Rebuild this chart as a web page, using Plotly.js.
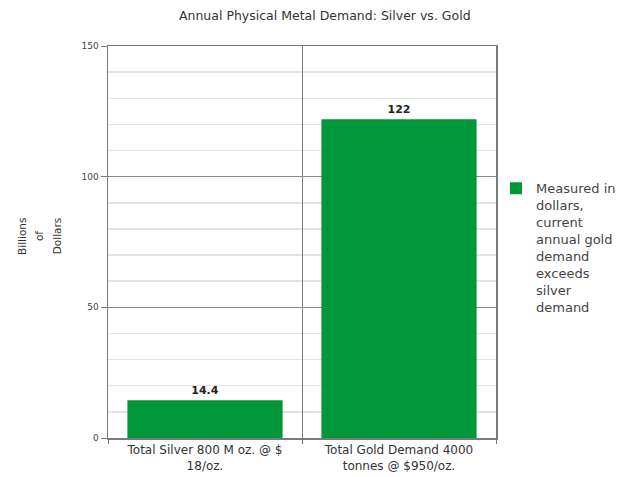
<!DOCTYPE html>
<html>
<head>
<meta charset="utf-8">
<script src="https://cdn.plot.ly/plotly-3.0.1.min.js"></script>
<style>
  html, body { margin: 0; padding: 0; background: #fff; }
  #chart { width: 627px; height: 477px; }
</style>
</head>
<body>
<div id="chart"></div>
<script>
// Annual physical demand, in billions of dollars
const categories = [
  'Total Silver 800 M oz. @ $<br>18/oz.',
  'Total Gold Demand 4000<br>tonnes @ $950/oz.'
];
const demandBillions = [14.4, 122];
const seriesName = 'Measured in<br>dollars,<br>current<br>annual gold<br>demand<br>exceeds<br>silver<br>demand';
const chartTitle = 'Annual Physical Metal Demand: Silver vs. Gold';
const yTitleLines = ['Billions', 'of', 'Dollars'];
const yTickValues = [0, 50, 100, 150];

const FONT = 'DejaVu Sans, Liberation Sans, Arial, sans-serif';
const GREEN = '#00963a';
const FRAME = '#7a7a7a';

const trace = {
  type: 'bar',
  x: categories,
  y: demandBillions,
  name: seriesName,
  marker: { color: GREEN },
  width: 0.8,
  texttemplate: '<b>%{y}</b>',
  textposition: 'outside',
  cliponaxis: false,
  textfont: { family: FONT, size: 11, color: '#222' },
  showlegend: true,
  hoverinfo: 'x+y'
};

// y-axis title words, one rotated column each
const yTitleX = [-0.222, -0.178, -0.131];
const annotations = yTitleLines.map((word, i) => ({
  text: word,
  xref: 'paper', yref: 'paper',
  x: yTitleX[i], y: 0.515,
  xanchor: 'center', yanchor: 'middle',
  textangle: -90,
  showarrow: false,
  font: { family: FONT, size: 10.5, color: '#333' }
}));

const layout = {
  width: 627,
  height: 477,
  paper_bgcolor: '#fff',
  plot_bgcolor: '#fff',
  margin: { l: 108, r: 131, t: 46, b: 39, autoexpand: false },
  bargap: 0.2,
  title: {
    text: chartTitle,
    xref: 'container', yref: 'container',
    x: 0.518, y: 0.968,
    xanchor: 'center', yanchor: 'middle',
    font: { family: FONT, size: 12.5, color: '#333' }
  },
  xaxis: {
    type: 'category',
    tickson: 'boundaries',
    showgrid: true,
    gridcolor: FRAME,
    gridwidth: 1,
    showline: true,
    mirror: true,
    linecolor: FRAME,
    linewidth: 1.5,
    ticks: 'outside',
    ticklen: 4,
    tickcolor: FRAME,
    tickfont: { family: FONT, size: 12, color: '#333' },
    fixedrange: true
  },
  yaxis: {
    range: [0, 150],
    tickvals: yTickValues,
    showgrid: true,
    gridcolor: '#8a8a8a',
    gridwidth: 1,
    minor: { dtick: 10, showgrid: true, gridcolor: '#e2e2e2', gridwidth: 1.5 },
    showline: true,
    mirror: true,
    linecolor: FRAME,
    linewidth: 1.5,
    zeroline: false,
    ticks: 'outside',
    ticklen: 6,
    tickcolor: FRAME,
    tickfont: { family: FONT, size: 9, color: '#444' },
    fixedrange: true
  },
  legend: {
    x: 1.0, xanchor: 'left',
    y: 0.675, yanchor: 'top',
    bgcolor: 'rgba(0,0,0,0)',
    font: { family: FONT, size: 13, color: '#444' },
    valign: 'top'
  },
  annotations: annotations,
  showlegend: true
};

Plotly.newPlot('chart', [trace], layout, { displayModeBar: false, staticPlot: true });
</script>
</body>
</html>
